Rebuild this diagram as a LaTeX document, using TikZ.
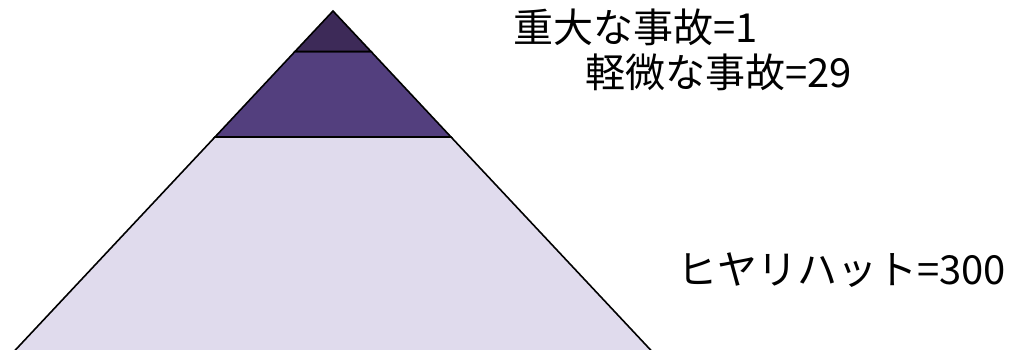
\documentclass[tikz,border=0pt]{standalone}
\usepackage{fontspec}
\newfontfamily\jp{Noto Sans CJK JP}
\definecolor{topc}{HTML}{3D2A58}
\definecolor{midc}{HTML}{533F7E}
\definecolor{botc}{HTML}{E0DBED}
\tikzset{
  band/.style={draw=black, line width=1.6pt, line join=miter},
  lbl/.style={anchor=west, inner sep=0pt, font=\jp\fontsize{40}{44}\selectfont}
}
\begin{document}
\begin{tikzpicture}[x=1pt,y=-1pt]
\useasboundingbox (0,0) rectangle (1010,350);
\coordinate (apex) at (333,11);
\coordinate (t1l) at (295.0,51.5);
\coordinate (t1r) at (371.0,51.5);
\coordinate (t2l) at (215.0,137);
\coordinate (t2r) at (451.0,137);
\coordinate (bl) at (6,360);
\coordinate (br) at (660,360);
\begin{scope}
\clip (0,0) rectangle (1010,350);
\filldraw[band, fill=botc] (t2l) -- (t2r) -- (br) -- (bl) -- cycle;
\end{scope}
\filldraw[band, fill=midc] (t1l) -- (t1r) -- (t2r) -- (t2l) -- cycle;
\filldraw[band, fill=topc] (apex) -- (t1r) -- (t1l) -- cycle;
\node[lbl] (l1) at (513,27) {重大な事故=1};
\node[lbl] (l2) at (585,72) {軽微な事故=29};
\node[lbl] (l3) at (677,270) {ヒヤリハット=300};
\end{tikzpicture}
\end{document}
